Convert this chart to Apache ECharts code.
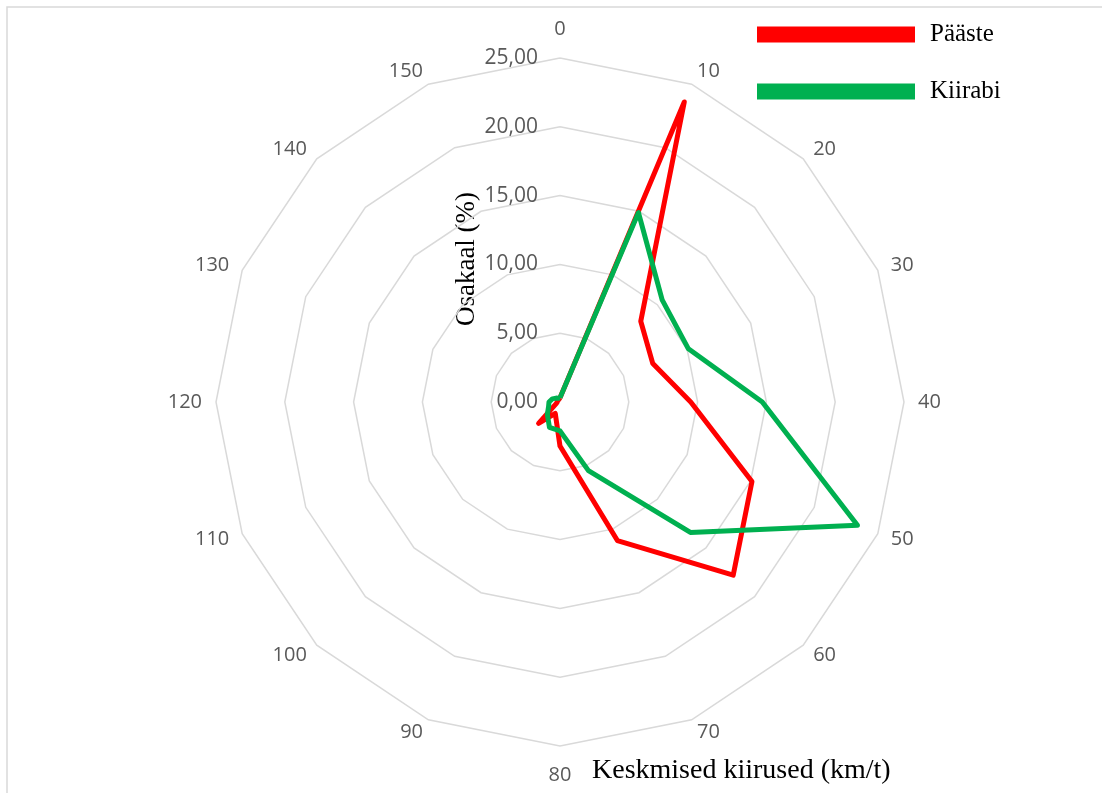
<!DOCTYPE html>
<html>
<head>
<meta charset="utf-8">
<script src="https://cdn.jsdelivr.net/npm/echarts@6/dist/echarts.min.js"></script>
<style>
  html, body { margin: 0; padding: 0; background: #fff; }
  #chart { width: 1102px; height: 793px; }
</style>
</head>
<body>
<div id="chart"></div>
<script>
// Speed classes (km/t), listed clockwise from the top
const categories = ['0', '10', '20', '30', '40', '50', '60', '70', '80', '90', '100', '110', '120', '130', '140', '150'];
// Share of trips per speed class (%)
const paaste  = [0.3, 23.6, 8.3, 7.3, 9.5, 15.1, 17.8, 10.9, 3.2, 0.9, 2.2, 0.3, 0.2, 0.2, 0.2, 0.2];
const kiirabi = [0.3, 14.9, 10.5, 10.1, 14.7, 23.4, 13.4, 5.4, 2.1, 2.0, 1.3, 0.9, 0.8, 0.6, 0.4, 0.3];
const radialTicks = ['0,00', '5,00', '10,00', '15,00', '20,00', '25,00'];
const radialMax = 25;
const radialStep = 5;

// ECharts lays radar indicators out counter-clockwise; reorder so the classes run clockwise.
const order = categories.map((_, i) => (categories.length - i) % categories.length);
const pick = arr => order.map(i => arr[i]);

const gray = '#595959';
const sans = '"Open Sans", "Liberation Sans", sans-serif';
const serif = '"Liberation Serif", "DejaVu Serif", serif';

const indicator = pick(categories).map((name, i) => {
  const item = { name: name, min: 0, max: radialMax };
  // the top and bottom class names sit a little further out
  if (name === '0' || name === '80') item.nameGap = 19;
  if (i === 0) {
    item.axisLabel = {
      show: true,
      color: gray,
      fontSize: 21,
      fontFamily: sans,
      margin: 22,
      formatter: v => radialTicks[Math.round(v / radialStep)]
    };
  }
  return item;
});

const chart = echarts.init(document.getElementById('chart'), null, { renderer: 'canvas' });
chart.setOption({
  animation: false,
  backgroundColor: '#fff',
  legend: {
    orient: 'vertical',
    left: 752,
    top: 17,
    itemWidth: 158,
    itemHeight: 16,
    itemGap: 32,
    icon: 'rect',
    textStyle: { fontFamily: serif, fontSize: 25, color: '#000', padding: [0, 0, 0, 10] },
    data: ['Pääste', 'Kiirabi']
  },
  radar: {
    center: [560, 402],
    radius: 344,
    shape: 'polygon',
    splitNumber: radialMax / radialStep,
    axisName: { color: gray, fontSize: 20, fontFamily: sans },
    nameGap: 14,
    axisLine: { show: false },
    axisTick: { show: false },
    axisLabel: { show: false },
    splitArea: { show: false },
    splitLine: { lineStyle: { color: '#d9d9d9', width: 1.5 } },
    indicator: indicator
  },
  series: [{
    type: 'radar',
    symbol: 'none',
    data: [
      { name: 'Pääste', value: pick(paaste),
        lineStyle: { color: '#ff0000', width: 5 }, itemStyle: { color: '#ff0000' } },
      { name: 'Kiirabi', value: pick(kiirabi),
        lineStyle: { color: '#00b050', width: 5 }, itemStyle: { color: '#00b050' } }
    ]
  }],
  graphic: [
    { type: 'rect', shape: { x: 7, y: 7, width: 1200, height: 900 }, silent: true,
      style: { fill: 'none', stroke: '#d9d9d9', lineWidth: 1.5 } },
    { type: 'text', x: 467, y: 259, rotation: Math.PI / 2, silent: true,
      style: { text: 'Osakaal (%)', font: '27px ' + serif, fill: '#000', align: 'center', verticalAlign: 'middle' } },
    { type: 'text', x: 592, y: 771, silent: true,
      style: { text: 'Keskmised kiirused (km/t)', font: '28px ' + serif, fill: '#000', align: 'left', verticalAlign: 'middle' } }
  ]
});
</script>
</body>
</html>
